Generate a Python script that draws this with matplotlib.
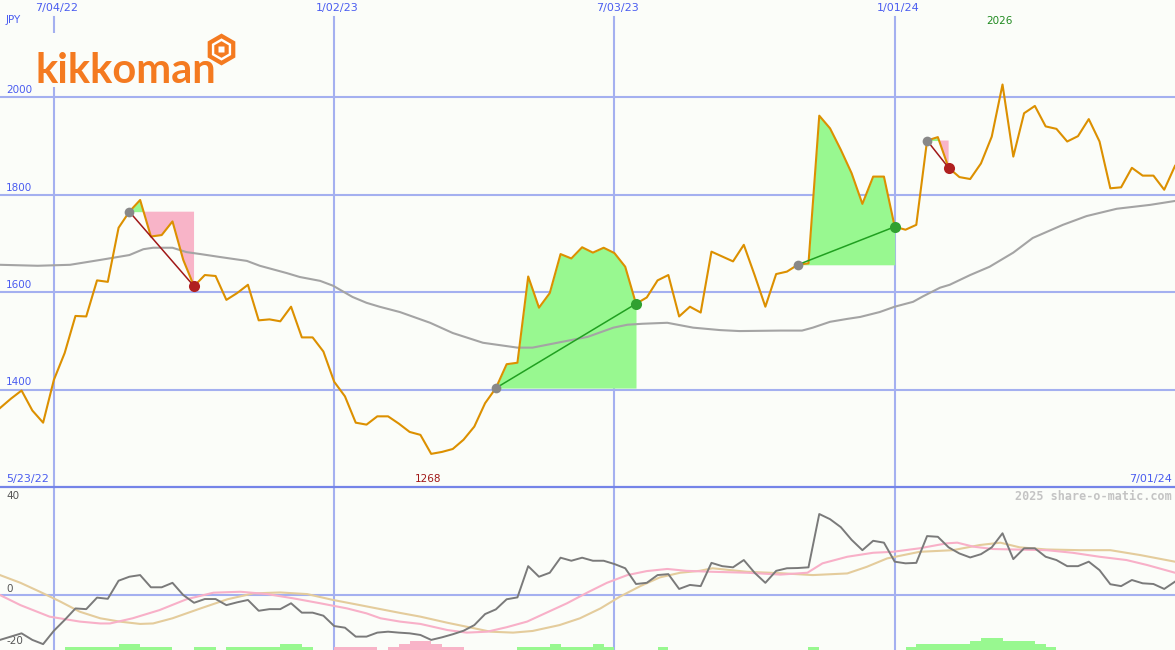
import numpy as np
import pandas as pd
import matplotlib
matplotlib.use('Agg')
import matplotlib.pyplot as plt
import matplotlib.dates as mdates
from matplotlib.patches import Rectangle
from matplotlib.lines import Line2D

# weekly closes, Mondays 2022-05-30 .. 2024-07-01
dates = pd.date_range('2022-05-30', periods=110, freq='7D')

price = [1362, 1381, 1398, 1357, 1332, 1420, 1475, 1551, 1550, 1624,
         1621, 1732, 1765, 1789, 1714, 1717, 1745, 1666, 1612, 1635,
         1633, 1584, 1598, 1615, 1542, 1544, 1540, 1570, 1507, 1507,
         1478, 1416, 1386, 1332, 1328, 1345, 1345, 1330, 1313, 1307,
         1268, 1272, 1278, 1297, 1324, 1372, 1403, 1452, 1455, 1632,
         1568, 1598, 1678, 1669, 1692, 1681, 1691, 1680, 1652, 1576,
         1589, 1624, 1635, 1550, 1570, 1558, 1683, 1673, 1663, 1697,
         1635, 1570, 1637, 1642, 1656, 1659, 1962, 1936, 1892, 1844,
         1781, 1837, 1837, 1734, 1728, 1738, 1911, 1918, 1855, 1836,
         1832, 1864, 1919, 2026, 1878, 1967, 1982, 1940, 1935, 1909,
         1920, 1955, 1909, 1813, 1815, 1855, 1839, 1839, 1810, 1859]

# long moving average (week offset -> value)
ma_weeks = [0, 3.5, 6.5, 9.3, 12, 13.3, 14.2, 16, 17.3, 18.6, 20.4, 22.9, 24.1, 26.6,
            27.8, 29.7, 30.9, 32.7, 34, 35.2, 37.1, 39.9, 42, 44.8, 48, 49.4, 51.7,
            54.5, 56.9, 58.2, 59.6, 61.9, 64.3, 66.8, 68.6, 72.4, 74.4, 75.4, 77,
            78.6, 79.8, 81.6, 83, 84.7, 85.6, 87.2, 88.1, 90, 91.8, 94, 95.8, 98.6,
            100.8, 103.6, 106.7, 109]
ma_vals = [1656, 1654, 1656, 1666, 1676, 1688, 1691, 1691, 1682, 1678, 1672, 1664, 1654, 1639,
           1631, 1623, 1613, 1590, 1578, 1570, 1559, 1537, 1516, 1496, 1486, 1486, 1496,
           1508, 1527, 1533, 1535, 1537, 1527, 1522, 1520, 1521, 1521, 1527, 1539,
           1545, 1549, 1559, 1570, 1580, 1591, 1609, 1615, 1635, 1652, 1681, 1711, 1738,
           1756, 1771, 1779, 1787]

# signals: start week -> end week
sig_start = [12, 46, 74, 86]
sig_end = [18, 59, 83, 88]

# lower panel oscillator
osc = [-19.1, -17.7, -16.3, -19.1, -20.9, -15.2, -10.6, -5.7, -6.0, -1.1,
       -1.6, 6.1, 7.8, 8.5, 3.3, 3.3, 5.2, 0.0, -3.3, -1.7,
       -1.7, -4.3, -3.1, -2.1, -6.7, -6.0, -6.0, -3.5, -7.5, -7.5,
       -8.8, -13.2, -13.9, -17.7, -17.7, -16.0, -15.6, -16.0, -16.3, -17.0,
       -19.1, -18.0, -16.7, -15.2, -12.8, -8.1, -6.1, -1.8, -1.0, 12.3,
       7.8, 9.5, 15.9, 14.6, 15.9, 14.6, 14.6, 13.2, 11.4, 4.7,
       5.2, 8.5, 8.9, 2.6, 4.3, 3.8, 13.7, 12.3, 11.8, 14.9,
       9.5, 5.2, 10.3, 11.4, 11.5, 11.8, 34.5, 32.3, 28.9, 23.5,
       19.1, 23.1, 22.3, 14.2, 13.5, 13.7, 25.1, 24.8, 20.3, 17.7,
       16.0, 17.4, 20.3, 26.3, 15.3, 19.9, 19.9, 16.3, 14.9, 12.3,
       12.3, 14.2, 10.6, 4.6, 3.8, 6.4, 5.0, 4.7, 2.6, 5.7]

pink_weeks = [0, 1.9, 4.6, 7.4, 9.3, 10.2, 12.3, 14.8, 17.3, 19.8, 22.3, 24.8, 27.2,
              29.7, 32.2, 34.0, 35.3, 37.1, 39.0, 41.5, 43.3, 45.2, 47.0, 48.9, 50.7,
              52.6, 54.5, 56.3, 58.2, 60.0, 61.9, 63.7, 66.1, 69.3, 72.4, 74.9, 76.3,
              78.6, 81.0, 82.8, 85.3, 87.8, 88.8, 90.3, 92.1, 94.0, 97.1, 99.5, 102.0,
              104.5, 106.4, 109]
pink_vals = [0.0, -4.3, -9.2, -11.3, -12.1, -12.1, -9.9, -6.4, -1.8, 1.0, 1.4, 0.4, -1.4,
             -3.5, -5.7, -7.8, -9.9, -11.3, -12.3, -14.9, -16.0, -15.6, -13.7, -11.3, -7.5,
             -3.5, 1.1, 5.2, 8.5, 10.2, 11.1, 10.3, 9.9, 9.5, 8.7, 9.5, 13.5,
             16.3, 18.0, 18.4, 19.9, 22.0, 22.3, 20.6, 19.6, 19.4, 19.1, 18.0, 16.3,
             14.9, 12.8, 9.5]

tan_weeks = [0, 1.9, 3.7, 5.6, 7.4, 9.3, 11.1, 13.0, 14.2, 16.0, 18.6, 21.1, 23.5,
             26.0, 28.5, 30.9, 33.4, 35.3, 37.1, 39.0, 41.5, 43.3, 45.5, 47.6, 49.4,
             51.9, 53.8, 55.7, 57.5, 59.4, 61.2, 63.1, 64.9, 66.1, 69.3, 72.4, 75.4,
             78.6, 80.4, 82.3, 85.3, 88.4, 90.9, 92.8, 94.6, 97.1, 100.2, 103.0, 105.8, 109]
tan_vals = [8.5, 5.2, 1.4, -2.8, -7.1, -9.9, -11.3, -12.3, -12.1, -9.9, -5.7, -1.8, 0.7,
            1.1, 0.4, -2.1, -4.3, -6.0, -7.6, -9.2, -11.8, -13.5, -15.6, -16.0, -15.3,
            -12.8, -9.9, -5.7, -0.7, 3.8, 7.5, 9.5, 10.3, 11.4, 9.9, 9.3, 8.5,
            9.2, 12.0, 15.6, 18.4, 19.1, 21.3, 22.3, 20.3, 19.4, 19.1, 19.1, 17.0, 14.2]

hist = [0, 0, 0, 0, 0, 0, 1.3, 1.3, 1.3, 1.3,
        1.3, 2.6, 2.6, 1.3, 1.3, 1.3, 0, 0, 1.3, 1.3,
        0, 1.3, 1.3, 1.3, 1.3, 1.3, 2.6, 2.6, 1.3, 0,
        0, -1.3, -1.3, -1.3, -1.3, 0, -1.3, -2.6, -3.8, -3.8,
        -2.6, -1.3, -1.3, 0, 0, 0, 0, 0, 1.3, 1.3,
        1.3, 2.6, 1.3, 1.3, 1.3, 2.6, 1.3, 0, 0, 0,
        0, 1.3, 0, 0, 0, 0, 0, 0, 0, 0,
        0, 0, 0, 0, 0, 1.3, 0, 0, 0, 0,
        0, 0, 0, 0, 1.3, 2.6, 2.6, 2.6, 2.6, 2.6,
        3.8, 5.1, 5.1, 3.8, 3.8, 3.8, 2.6, 1.3, 0, 0,
        0, 0, 0, 0, 0, 0, 0, 0, 0, 0]

grid_dates = ['2022-07-04', '2023-01-02', '2023-07-03', '2024-01-01']
grid_labels = ['7/04/22', '1/02/23', '7/03/23', '1/01/24']
price_ticks = [2000, 1800, 1600, 1400]
osc_ticks = [40, 0, -20]

# colours
bg = '#fbfdf9'
grid_c = '#a4b0f0'
blue_txt = '#4a5cf0'
price_c = '#dc9000'
ma_c = '#a4a4a4'
fill_up = '#98f890'
fill_dn = '#f8b4c8'

W, H = 1175, 650
fig = plt.figure(figsize=(W / 100, H / 100), dpi=100, facecolor=bg)
ax = fig.add_axes([0, 163 / H, 1, 487 / H])
ax2 = fig.add_axes([0, 0, 1, 163 / H])

d = mdates.date2num(dates)
t0 = d[0]
price = np.array(price)
for a in (ax, ax2):
    a.set_facecolor(bg)
    a.set_xlim(t0, mdates.date2num(pd.Timestamp('2024-07-01')))
    a.set_xticks([])
    a.set_yticks([])
    for s in a.spines.values():
        s.set_visible(False)

ax.set_ylim(1200, 2199.4)
ax2.set_ylim(-23.4, 46.0)

# grid
for g in grid_dates:
    gx = mdates.date2num(pd.Timestamp(g))
    ax.axvline(gx, ymin=0, ymax=1 - 17 / 487, color=grid_c, lw=1.5, zorder=1)
    ax2.axvline(gx, color=grid_c, lw=1.5, zorder=1)
for v in price_ticks:
    ax.axhline(v, color=grid_c, lw=1.5, zorder=1)
    ax.annotate(str(v), xy=(0, v), xycoords=('axes fraction', 'data'), xytext=(4.5, 1.5),
                textcoords='offset points', va='bottom', ha='left', fontsize=7.5, color=blue_txt)
ax2.axhline(0, color=grid_c, lw=1.5, zorder=1)

for g, lab in zip(grid_dates, grid_labels):
    ax.text(mdates.date2num(pd.Timestamp(g)) + 2, 1 - 8 / 487, lab, transform=ax.get_xaxis_transform(),
            ha='center', va='center', fontsize=8, color=blue_txt)
ax.text(6 / W, 1 - 20 / 487, 'JPY', transform=ax.transAxes, fontsize=7.5, color=blue_txt, va='center')
ax.text(6 / W, 8 / 487, '5/23/22', transform=ax.transAxes,
        fontsize=8, color=blue_txt, va='center')
ax.text(1 - 3 / W, 8 / 487, '7/01/24', transform=ax.transAxes, fontsize=8, color=blue_txt,
        va='center', ha='right')

# max / min labels
imax, imin = int(np.argmax(price)), int(np.argmin(price))
ax.text(d[imax] - 2, 1 - 21 / 487, str(price[imax]), transform=ax.get_xaxis_transform(),
        ha='center', va='center', fontsize=7.5, color='#208a20')
ax.text(d[imin] - 2, 8 / 487, str(price[imin]), transform=ax.get_xaxis_transform(),
        ha='center', va='center', fontsize=7.5, color='#a01818')

# signal fills
for s, e in zip(sig_start, sig_end):
    xs = d[s:e + 1]
    ys = price[s:e + 1]
    lvl = price[s]
    ax.fill_between(xs, ys, lvl, where=ys >= lvl, interpolate=True, color=fill_up, lw=0, zorder=2)
    ax.fill_between(xs, ys, lvl, where=ys <= lvl, interpolate=True, color=fill_dn, lw=0, zorder=2)

ax.plot(t0 + np.array(ma_weeks) * 7, ma_vals, color=ma_c, lw=1.5, zorder=3)
ax.plot(d, price, color=price_c, lw=1.5, zorder=4)

for s, e in zip(sig_start, sig_end):
    gain = price[e] > price[s]
    lc = '#20a020' if gain else '#a01818'
    ax.plot([d[s], d[e]], [price[s], price[e]], color=lc, lw=1.1, zorder=5)
    ax.plot(d[s], price[s], 'o', ms=7, color='#888888', mec='none', zorder=6)
    ax.plot(d[e], price[e], 'o', ms=8, color='#30a030' if gain else '#b02020', mec='none', zorder=6)

# logo
ax.add_patch(Rectangle((34 / W, 1 - 87 / 487), 204 / W, 54 / 487, transform=ax.transAxes,
                       facecolor=bg, edgecolor='none', zorder=1.5))
ax.text(35 / W, 1 - 83 / 487, 'kikkoman', transform=ax.transAxes, fontsize=30,
        family='Lato', weight='bold', color='#f47a20', va='baseline', ha='left', zorder=7)
hx, hy = 221 / W, 1 - 49 / 487
ax.plot(hx, hy, 'h', ms=23, color='#f47a20', mec='none', transform=ax.transAxes, zorder=7)
ax.plot(hx, hy, 'h', ms=16, color='white', mec='none', transform=ax.transAxes, zorder=8)
ax.plot(hx, hy, 'h', ms=12, color='#f47a20', mec='none', transform=ax.transAxes, zorder=9)
ax.plot(hx, hy, 's', ms=4.5, color='white', mec='none', transform=ax.transAxes, zorder=10)

# lower panel
hist = np.array(hist)
ax2.bar(d, np.abs(hist), width=7, bottom=-23.4, align='edge',
        color=[fill_up if v > 0 else fill_dn for v in hist], lw=0, zorder=2)
ax2.plot(t0 + np.array(tan_weeks) * 7, tan_vals, color='#e4cc9c', lw=1.5, zorder=3)
ax2.plot(t0 + np.array(pink_weeks) * 7, pink_vals, color='#f8b0c8', lw=1.5, zorder=3)
ax2.plot(d, osc, color='#7a7a7a', lw=1.4, zorder=4)

for v, off in zip(osc_ticks, [3.5, 4.0, 1.0]):
    ax2.annotate(str(v), xy=(0, v), xycoords=('axes fraction', 'data'), xytext=(4.5, off),
                 textcoords='offset points', va='center', ha='left', fontsize=7.5, color='#555555')
ax2.text(1 - 3 / W, 1 - 9 / 163, '2025 share-o-matic.com', transform=ax2.transAxes,
         ha='right', va='center', fontsize=8.5, family='DejaVu Sans Mono', weight='bold',
         color='#c4c4c4')

fig.add_artist(Line2D([0, 1], [163 / H, 163 / H], transform=fig.transFigure,
                      color='#7484e8', lw=1.6))

fig.savefig('out.png', dpi=100, facecolor=bg)
